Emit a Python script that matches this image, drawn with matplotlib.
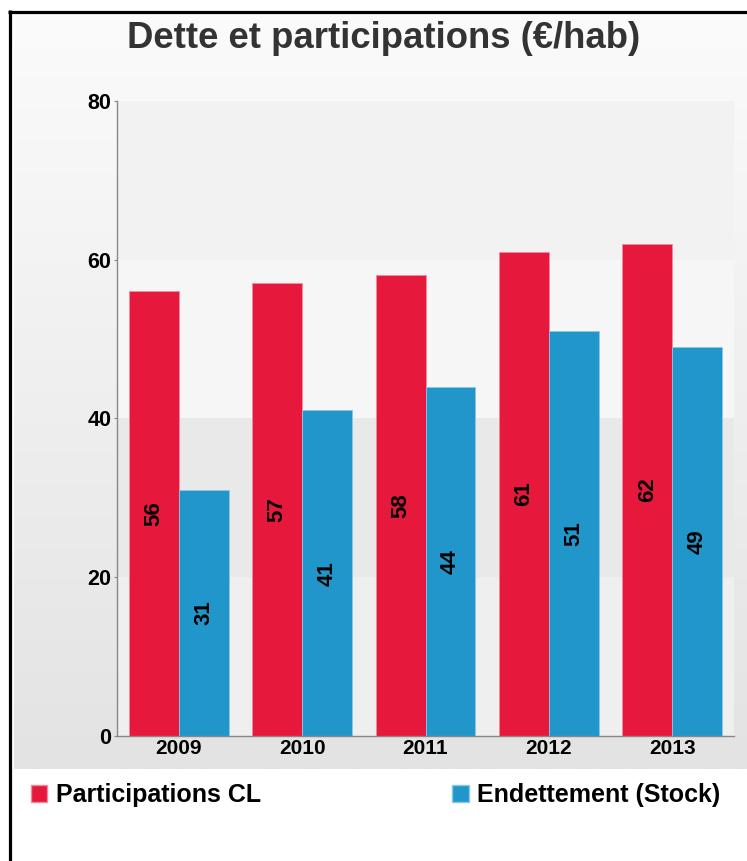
import numpy as np
import matplotlib
matplotlib.use("Agg")
import matplotlib.pyplot as plt
from matplotlib.lines import Line2D
from matplotlib.patches import Patch

years = ["2009", "2010", "2011", "2012", "2013"]
participations = [56, 57, 58, 61, 62]
endettement = [31, 41, 44, 51, 49]
series_names = ["Participations CL", "Endettement (Stock)"]
title = "Dette et participations (€/hab)"

RED = "#e6183b"
BLUE = "#2196cb"

plt.rcParams['font.family'] = ['Liberation Sans', 'DejaVu Sans']

W, H = 747, 861
fig = plt.figure(figsize=(W / 100, H / 100), dpi=100)
fig.patch.set_facecolor("white")

def fx(px):
    return px / W

def fy(py):
    return 1 - py / H

# panel gradient background
bg = fig.add_axes([fx(14), fy(769), fx(747 - 14), (769 - 13) / H], zorder=0)
grad = np.linspace(0, 1, 256).reshape(-1, 1)
bg.imshow(grad, aspect="auto", cmap=matplotlib.colors.LinearSegmentedColormap.from_list(
    "g", ["#fbfbfb", "#e3e3e3"]), extent=[0, 1, 0, 1], origin="upper")
bg.set_axis_off()

# black frame (top & left)
fig.add_artist(Line2D([fx(8), 1], [fy(11.5), fy(11.5)], color="black", lw=2.3,
                      transform=fig.transFigure, solid_capstyle="butt"))
fig.add_artist(Line2D([fx(9.5), fx(9.5)], [fy(10), 0], color="black", lw=2.3,
                      transform=fig.transFigure, solid_capstyle="butt"))

ax = fig.add_axes([fx(117), fy(736), fx(734 - 117), (736 - 100.7) / H], zorder=1)
ax.set_facecolor("none")

x = np.arange(len(years))
w = 0.405
ax.set_xlim(-0.5, len(years) - 0.5)
ax.set_ylim(0, 80)

band_colors = ["#efefef", "#e9e9e9", "#f6f6f6", "#f2f2f2"]
for i, c in enumerate(band_colors):
    ax.axhspan(i * 20, (i + 1) * 20, color=c, zorder=0, lw=0)

b1 = ax.bar(x - w / 2, participations, w, color=RED, edgecolor="#f08a9c", linewidth=0.6, zorder=2)
b2 = ax.bar(x + w / 2, endettement, w, color=BLUE, edgecolor="#8cc8e6", linewidth=0.6, zorder=2)

for bars, vals in ((b1, participations), (b2, endettement)):
    for rect, v in zip(bars, vals):
        ax.text(rect.get_x() + rect.get_width() / 2, v / 2, str(v), rotation=90,
                ha="center", va="center", fontsize=16, fontweight="bold", color="black", zorder=3)

ax.set_xticks(x)
ax.set_xticklabels(years, fontsize=15, fontweight="bold")
ax.set_yticks([0, 20, 40, 60, 80])
ax.set_yticklabels(["0", "20", "40", "60", "80"], fontsize=15.5, fontweight="bold")
ax.tick_params(axis="x", length=0, pad=2)
ax.tick_params(axis="y", length=2, width=0.8, color="#888888", pad=2)
for s in ("top", "right"):
    ax.spines[s].set_visible(False)
for s in ("left", "bottom"):
    ax.spines[s].set_color("#888888")
    ax.spines[s].set_linewidth(1)

fig.text(fx(384), fy(38), title, ha="center", va="center", fontsize=26.3,
         fontweight="bold", color="#333333")

handles = [Patch(facecolor=RED, edgecolor="#f08a9c"), Patch(facecolor=BLUE, edgecolor="#8cc8e6")]
fig.legend(handles, series_names, loc="center left", bbox_to_anchor=(fx(31), fy(795)),
           ncol=2, frameon=False, prop={"size": 18, "weight": "bold"},
           handlelength=0.65, handleheight=0.65, handletextpad=0.35,
           columnspacing=7.65, borderpad=0, borderaxespad=0)

fig.savefig("out.png", dpi=100)
